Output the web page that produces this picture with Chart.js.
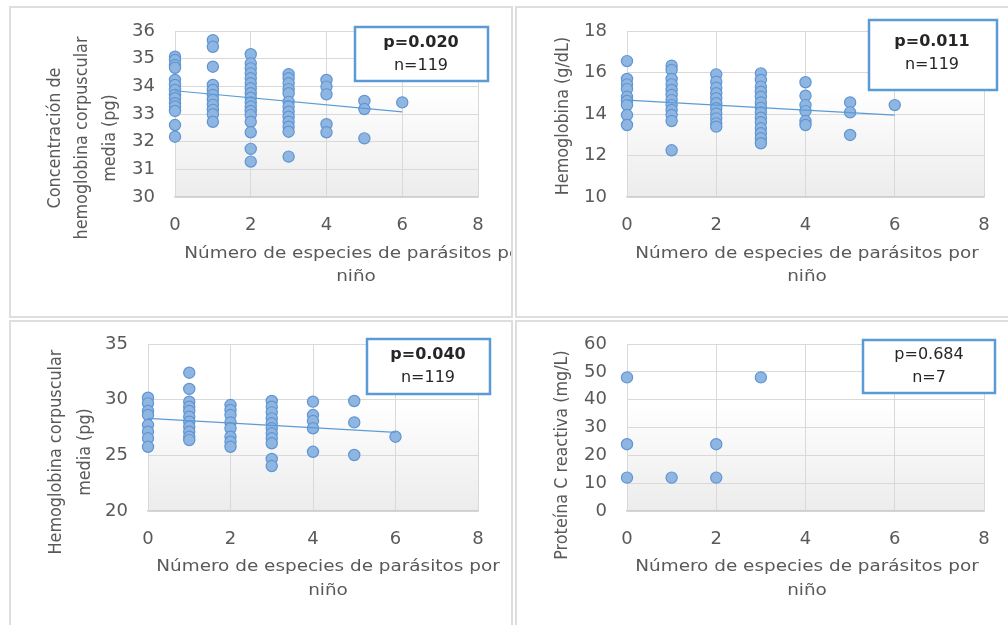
<!DOCTYPE html>
<html>
<head>
<meta charset="utf-8">
<script src="https://cdn.jsdelivr.net/npm/chart.js@4.4.1/dist/chart.umd.min.js"></script>
<style>
	html, body { margin: 0; padding: 0; background: #fff; width: 1008px; height: 625px; overflow: hidden; }
	.panel { position: absolute; box-sizing: border-box; border: 2px solid #dedede; background: #fff; overflow: hidden; }
	canvas { display: block; }
</style>
</head>
<body>
<div class="panel" style="left:9px;top:6px;width:504px;height:312px"><canvas id="chartMchc" width="500" height="308"></canvas></div>
<div class="panel" style="left:515px;top:6px;width:495px;height:312px"><canvas id="chartHb" width="491" height="308"></canvas></div>
<div class="panel" style="left:9px;top:320px;width:504px;height:307px"><canvas id="chartMch" width="500" height="303"></canvas></div>
<div class="panel" style="left:515px;top:320px;width:495px;height:307px"><canvas id="chartPcr" width="491" height="303"></canvas></div>
<script>
// x = number of parasite species per child, y values grouped by x
const speciesCounts = [0, 1, 2, 3, 4, 5, 6];
const xTicks = [0, 2, 4, 6, 8];

// Concentración de hemoglobina corpuscular media (pg)
const mchcValues = [
	[35.07, 34.95, 34.77, 34.67, 34.23, 34.05, 33.87, 33.69, 33.57, 33.39, 33.27, 33.11, 32.6, 32.18],
	[35.67, 35.43, 34.71, 34.05, 33.87, 33.69, 33.51, 33.33, 33.15, 32.99, 32.72],
	[35.16, 34.83, 34.65, 34.47, 34.29, 34.11, 33.93, 33.75, 33.59, 33.42, 33.27, 33.11, 32.96, 32.72, 32.34, 31.74, 31.28],
	[34.44, 34.29, 34.11, 33.9, 33.75, 33.44, 33.27, 33.08, 32.9, 32.72, 32.54, 32.36, 31.46],
	[34.23, 33.99, 33.71, 32.63, 32.34],
	[33.47, 33.18, 32.12],
	[33.42]
];
const mchcTrend = [33.84, 33.08];

// Hemoglobina (g/dL)
const hbValues = [
	[16.55, 15.69, 15.43, 15.2, 14.83, 14.63, 14.43, 13.95, 13.47],
	[16.33, 16.12, 15.69, 15.43, 15.16, 14.92, 14.67, 14.43, 14.19, 13.95, 13.66, 12.25],
	[15.91, 15.56, 15.27, 15.0, 14.76, 14.52, 14.28, 14.03, 13.79, 13.55, 13.39],
	[15.96, 15.64, 15.32, 15.07, 14.83, 14.56, 14.3, 14.08, 13.82, 13.6, 13.31, 13.07, 12.83, 12.59],
	[15.53, 14.88, 14.43, 14.14, 13.66, 13.47],
	[14.56, 14.08, 12.99],
	[14.43]
];
const hbTrend = [14.67, 13.95];

// Hemoglobina corpuscular media (pg)
const mchValues = [
	[30.18, 29.67, 28.98, 28.62, 27.72, 27.12, 26.53, 25.77],
	[32.42, 30.96, 29.82, 29.37, 28.98, 28.47, 28.02, 27.57, 27.12, 26.67, 26.37],
	[29.52, 29.07, 28.62, 27.96, 27.43, 26.67, 26.22, 25.77],
	[29.88, 29.37, 28.86, 28.32, 27.88, 27.43, 26.98, 26.53, 26.08, 24.67, 24.04],
	[29.82, 28.62, 28.08, 27.43, 25.32],
	[29.88, 27.96, 25.03],
	[26.67]
];
const mchTrend = [28.32, 27.07];

// Proteína C reactiva (mg/L)
const pcrValues = [
	[48, 24, 12],
	[12],
	[24, 12],
	[48]
];

const axisColor = '#595959';
const fontFamily = "'DejaVu Sans', sans-serif";
const xTitleLines = ['Número de especies de parásitos por', 'niño'];
const textStretch = 1.15;

function toPoints(groups) {
	let pts = [];
	groups.forEach((vals, i) => {
		vals.forEach((v) => { pts.push({x: speciesCounts[i], y: v}); });
	});
	return pts;
}

// background gradient, axis titles and the p / n box
const panelDecor = {
	id: 'panelDecor',
	beforeDraw(chart) {
		const a = chart.chartArea;
		const ctx = chart.ctx;
		const g = ctx.createLinearGradient(0, a.top, 0, a.bottom);
		g.addColorStop(0, '#ffffff');
		g.addColorStop(0.35, '#ffffff');
		g.addColorStop(1, '#ececec');
		ctx.save();
		ctx.fillStyle = g;
		ctx.fillRect(a.left, a.top, a.right - a.left, a.bottom - a.top);
		ctx.restore();
	},
	afterDraw(chart, args, opts) {
		const ctx = chart.ctx;
		ctx.save();
		ctx.fillStyle = axisColor;
		ctx.font = '16px ' + fontFamily;
		ctx.textAlign = 'center';
		ctx.textBaseline = 'middle';
		opts.xTitle.y.forEach((y, i) => {
			ctx.save();
			ctx.translate(opts.xTitle.x, y);
			ctx.scale(textStretch, 1);
			ctx.fillText(xTitleLines[i], 0, 0);
			ctx.restore();
		});
		opts.yTitle.lines.forEach((text, i) => {
			ctx.save();
			ctx.translate(opts.yTitle.x[i], opts.yTitle.y);
			ctx.rotate(-Math.PI / 2);
			ctx.scale(1, textStretch);
			ctx.fillText(text, 0, 0);
			ctx.restore();
		});
		const b = opts.note.box;
		ctx.fillStyle = '#ffffff';
		ctx.fillRect(b[0], b[1], b[2], b[3]);
		ctx.strokeStyle = '#5b9bd5';
		ctx.lineWidth = 2.5;
		ctx.strokeRect(b[0], b[1], b[2], b[3]);
		ctx.fillStyle = '#262626';
		ctx.font = (opts.note.bold ? 'bold ' : '') + '16px ' + fontFamily;
		ctx.fillText(opts.note.p, opts.note.cx, opts.note.py);
		ctx.font = '16px ' + fontFamily;
		ctx.fillText(opts.note.n, opts.note.cx, opts.note.ny);
		ctx.restore();
	}
};

function makeChart(id, values, trend, yScale, area, decor) {
	const canvas = document.getElementById(id);
	const datasets = [];
	if (trend) {
		datasets.push({
			type: 'line',
			data: [{x: 0, y: trend[0]}, {x: 6, y: trend[1]}],
			borderColor: '#5b9bd5',
			borderWidth: 1.2,
			pointRadius: 0,
			fill: false,
			clip: false
		});
	}
	datasets.push({
		data: toPoints(values),
		backgroundColor: '#8fb5e1',
		borderColor: '#5f95d3',
		borderWidth: 1.2,
		pointRadius: 5.6,
		clip: false
	});
	return new Chart(canvas, {
		type: 'scatter',
		data: {datasets: datasets},
		plugins: [panelDecor],
		options: {
			responsive: false,
			animation: false,
			events: [],
			layout: {
				autoPadding: false,
				padding: {left: 0, top: area.top, right: canvas.width - area.right, bottom: 0}
			},
			plugins: {
				legend: {display: false},
				tooltip: {enabled: false},
				panelDecor: decor
			},
			scales: {
				x: {
					type: 'linear',
					min: 0,
					max: 8,
					afterBuildTicks: (s) => { s.ticks = xTicks.map((v) => ({value: v})); },
					afterFit: (s) => {
						s.height = canvas.height - area.bottom;
						s.paddingLeft = 0;
						s.paddingRight = 0;
					},
					grid: {color: '#d9d9d9', drawTicks: false},
					border: {color: '#d0d0d0', width: 1.5},
					ticks: {color: axisColor, font: {family: fontFamily, size: 18}, padding: 18}
				},
				y: {
					min: yScale[0],
					max: yScale[1],
					afterFit: (s) => {
						s.width = area.left;
						s.paddingTop = 0;
						s.paddingBottom = 0;
					},
					grid: {color: '#d9d9d9', drawTicks: false},
					border: {color: '#d9d9d9'},
					ticks: {stepSize: yScale[2], color: axisColor, font: {family: fontFamily, size: 18}, padding: 20}
				}
			}
		}
	});
}

makeChart('chartMchc', mchcValues, mchcTrend, [30, 36, 1],
	{left: 164, right: 467, top: 23, bottom: 189},
	{
		xTitle: {x: 345, y: [246, 269]},
		yTitle: {lines: ['Concentración de', 'hemoglobina corpuscular', 'media (pg)'], x: [44, 71, 99], y: 130},
		note: {box: [344, 19, 133, 54], p: 'p=0.020', n: 'n=119', bold: true, cx: 410, py: 35, ny: 58}
	});

makeChart('chartHb', hbValues, hbTrend, [10, 18, 2],
	{left: 110, right: 467, top: 23, bottom: 189},
	{
		xTitle: {x: 290, y: [246, 269]},
		yTitle: {lines: ['Hemoglobina (g/dL)'], x: [46], y: 108},
		note: {box: [352, 12, 128, 70], p: 'p=0.011', n: 'n=119', bold: true, cx: 415, py: 34, ny: 57}
	});

makeChart('chartMch', mchValues, mchTrend, [20, 35, 5],
	{left: 137, right: 467, top: 22, bottom: 189},
	{
		xTitle: {x: 317, y: [245, 269]},
		yTitle: {lines: ['Hemoglobina corpuscular', 'media (pg)'], x: [45, 74], y: 130},
		note: {box: [356, 17, 123, 55], p: 'p=0.040', n: 'n=119', bold: true, cx: 417, py: 33, ny: 56}
	});

makeChart('chartPcr', pcrValues, null, [0, 60, 10],
	{left: 110, right: 467, top: 22, bottom: 189},
	{
		xTitle: {x: 290, y: [245, 269]},
		yTitle: {lines: ['Proteína C reactiva (mg/L)'], x: [45], y: 133},
		note: {box: [346, 18, 132, 53], p: 'p=0.684', n: 'n=7', bold: false, cx: 412, py: 33, ny: 56}
	});
</script>
</body>
</html>
